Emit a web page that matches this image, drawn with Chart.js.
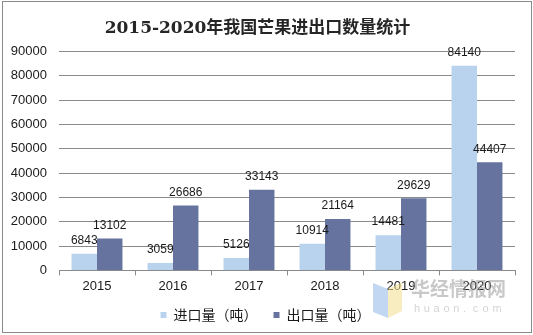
<!DOCTYPE html>
<html>
<head>
<meta charset="utf-8">
<script src="https://cdn.jsdelivr.net/npm/chart.js@4/dist/chart.umd.min.js"></script>
<style>
  body { margin: 0; background: #fff; }
  #wrap { position: relative; width: 533px; height: 335px; }
  #frame { position: absolute; left: 2px; top: 1px; width: 528px; height: 330px; border: 1px solid #8a8a8a; }
  canvas { position: absolute; left: 0; top: 0; }
</style>
</head>
<body>
<div id="wrap">
  <div id="frame"></div>
  <canvas id="chart" width="533" height="335"></canvas>
</div>
<script>
// 2015-2020 mango import / export volumes (tons)
const years = ['2015', '2016', '2017', '2018', '2019', '2020'];
const importTons = [6843, 3059, 5126, 10914, 14481, 84140];
const exportTons = [13102, 26686, 33143, 21164, 29629, 44407];
const seriesNames = ['进口量（吨）', '出口量（吨）'];

const latin = '"Liberation Sans", Arial, sans-serif';

// numbers above each bar
const barLabels = {
  id: 'barLabels',
  afterDatasetsDraw(chart) {
    const ctx = chart.ctx;
    ctx.save();
    ctx.font = '12px ' + latin;
    ctx.fillStyle = '#1a1a1a';
    ctx.textAlign = 'center';
    ctx.textBaseline = 'bottom';
    chart.data.datasets.forEach((ds, i) => {
      chart.getDatasetMeta(i).data.forEach((bar, j) => {
        ctx.fillText(String(ds.data[j]), bar.x, bar.y - 7);
      });
    });
    ctx.restore();
  }
};

// legend sits a bit right of centre in the original
const nudgeLegend = {
  id: 'nudgeLegend',
  afterLayout(chart) {
    chart.legend.left += 8;
    chart.legend.right += 8;
  }
};

// faint site watermark, bottom right
const watermark = {
  id: 'watermark',
  afterDraw(chart) {
    const ctx = chart.ctx;
    ctx.save();
    ctx.globalAlpha = 0.55;
    ctx.fillStyle = '#8fb6e8';
    ctx.beginPath();
    ctx.moveTo(373, 283); ctx.lineTo(388, 289); ctx.lineTo(388, 318); ctx.lineTo(373, 312);
    ctx.closePath(); ctx.fill();
    ctx.fillStyle = '#f3df8c';
    ctx.beginPath();
    ctx.moveTo(388, 289); ctx.lineTo(402, 282); ctx.lineTo(402, 311); ctx.lineTo(388, 318);
    ctx.closePath(); ctx.fill();
    ctx.fillStyle = '#9a9a9a';
    ctx.font = 'bold 19px "Noto Sans CJK SC", sans-serif';
    ctx.textBaseline = 'middle';
    ctx.fillText('华经情报网', 411, 289);
    ctx.font = '11px ' + latin;
    ctx.fillStyle = '#b0b0b0';
    const s = 'huaon.com';
    for (let k = 0; k < s.length; k++) ctx.fillText(s[k], 414 + k * 9.8, 309);
    ctx.restore();
  }
};

new Chart(document.getElementById('chart'), {
  type: 'bar',
  data: {
    labels: years,
    datasets: [
      { label: seriesNames[0], data: importTons, backgroundColor: '#b9d3ee' },
      { label: seriesNames[1], data: exportTons, backgroundColor: '#66739f' }
    ]
  },
  options: {
    responsive: false,
    animation: false,
    devicePixelRatio: 1,
    layout: { padding: { left: 0, right: 18, top: 0, bottom: 3 } },
    datasets: { bar: { categoryPercentage: 0.67, barPercentage: 1.0 } },
    scales: {
      x: {
        afterFit(scale) { scale.height -= 5; },
        grid: { offset: true, drawOnChartArea: false, drawTicks: true, tickLength: 5, color: '#8a8a8a' },
        border: { display: true, color: '#8a8a8a' },
        ticks: { color: '#1a1a1a', font: { family: latin, size: 13 }, padding: 3 }
      },
      y: {
        min: 0, max: 90000,
        afterFit(scale) { scale.width = 59; },
        grid: { color: '#8a8a8a', drawTicks: false },
        border: { display: false },
        ticks: {
          stepSize: 10000, color: '#1a1a1a', font: { family: latin, size: 13 }, padding: 12,
          callback: v => String(v)
        }
      }
    },
    plugins: {
      title: {
        display: true,
        text: '2015-2020年我国芒果进出口数量统计',
        color: '#262626',
        font: { family: '"DejaVu Serif", "Noto Sans CJK SC", serif', size: 17, weight: 'bold' },
        padding: { top: 18, bottom: 13 }
      },
      legend: {
        position: 'bottom',
        labels: {
          boxWidth: 6, boxHeight: 6, padding: 16,
          color: '#1a1a1a',
          font: { family: '"Noto Sans CJK SC", sans-serif', size: 14 }
        }
      },
      tooltip: { enabled: false }
    }
  },
  plugins: [barLabels, nudgeLegend, watermark]
});
</script>
</body>
</html>
